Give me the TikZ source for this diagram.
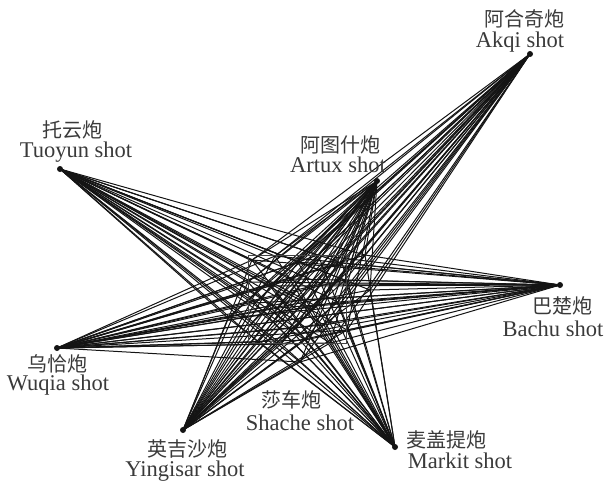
\documentclass[tikz,border=0pt]{standalone}
\usepackage{fontspec}
\setmainfont{Liberation Serif}
\newfontfamily\cjk{Noto Sans CJK SC}
\usetikzlibrary{positioning}
\definecolor{RayInk}{HTML}{141414}
\definecolor{LabelInk}{HTML}{3A3A3A}
\definecolor{BoxGray}{HTML}{444444}
\tikzset{
  ray/.style={RayInk,line width=1pt},
  shotdot/.style={circle,fill=RayInk,inner sep=0pt,minimum size=6pt},
  cnlabel/.style={text=LabelInk,inner sep=0pt,font=\cjk\fontsize{20}{22}\selectfont},
  enlabel/.style={text=LabelInk,inner sep=0pt,font=\fontsize{22.5}{24}\selectfont},
  studybox/.style={BoxGray,line width=0.7pt},
}

\begin{document}
\begin{tikzpicture}[x=1pt,y=-1pt]
    \useasboundingbox (0,0) rectangle (604,482);

    % ------------------------------------------------------------ shot points
    \node[shotdot] (akqi)     at (530,54)  {};
    \node[shotdot] (tuoyun)   at (60,169)  {};
    \node[shotdot] (artux)    at (377,181) {};
    \node[shotdot] (bachu)    at (560,285) {};
    \node[shotdot] (wuqia)    at (57,348)  {};
    \node[shotdot] (yingisar) at (183,430) {};
    \node[shotdot] (markit)   at (395,447) {};

    % -------------------------------------------------------------- receivers
    \foreach \name/\x/\y in {r1/252/260,r2/275/256,r3/298/262,r4/318/255,r5/342/263,
                             r6/248/282,r7/270/286,r8/293/279,r9/321/284,r10/345/280,
                             r11/255/303,r12/278/308,r13/300/300,r14/316/306,r15/338/302,
                             r16/250/325,r17/273/322,r18/296/328,r19/324/325,r20/347/330,
                             r21/258/342,r22/281/344,r23/305/340,r24/330/343,
                             r25/228/318,r26/370/290,r27/300/362,r28/365/255}
      \coordinate (\name) at (\x,\y);

    % ------------------------------------------------------------------ rays
    \foreach \s in {akqi,tuoyun,artux,bachu,wuqia,yingisar,markit}
      \foreach \r in {1,...,28}
        \draw[ray] (\s.center) -- (r\r);

    % ------------------------------------------------------------- study box
    \coordinate (boxnw) at (248,255);
    \coordinate (boxse) at (346,343);
    \draw[studybox] (boxnw) rectangle (boxse);

    % ---------------------------------------------------------------- labels
    \node[cnlabel] (akqicn)     at (524,19)  {阿合奇炮};
    \node[enlabel] (akqien)     at (520,42)  {Akqi shot};
    \node[cnlabel] (tuoyuncn)   at (72,130)  {托云炮};
    \node[enlabel] (tuoyunen)   at (76,152)  {Tuoyun shot};
    \node[cnlabel] (artuxcn)    at (340,145) {阿图什炮};
    \node[enlabel] (artuxen)    at (338,165) {Artux shot};
    \node[cnlabel] (bachucn)    at (562,306) {巴楚炮};
    \node[enlabel] (bachuen)    at (553,329) {Bachu shot};
    \node[cnlabel] (wuqiacn)    at (57,364)  {乌恰炮};
    \node[enlabel] (wuqiaen)    at (58,385)  {Wuqia shot};
    \node[cnlabel] (shachecn)   at (291,400) {莎车炮};
    \node[enlabel] (shacheen)   at (300,423) {Shache shot};
    \node[cnlabel] (yingisarcn) at (187,449) {英吉沙炮};
    \node[enlabel] (yingisaren) at (185,471) {Yingisar shot};
    \node[cnlabel] (markitcn)   at (446,440) {麦盖提炮};
    \node[enlabel] (markiten)   at (460,461) {Markit shot};
  \end{tikzpicture}
\end{document}
